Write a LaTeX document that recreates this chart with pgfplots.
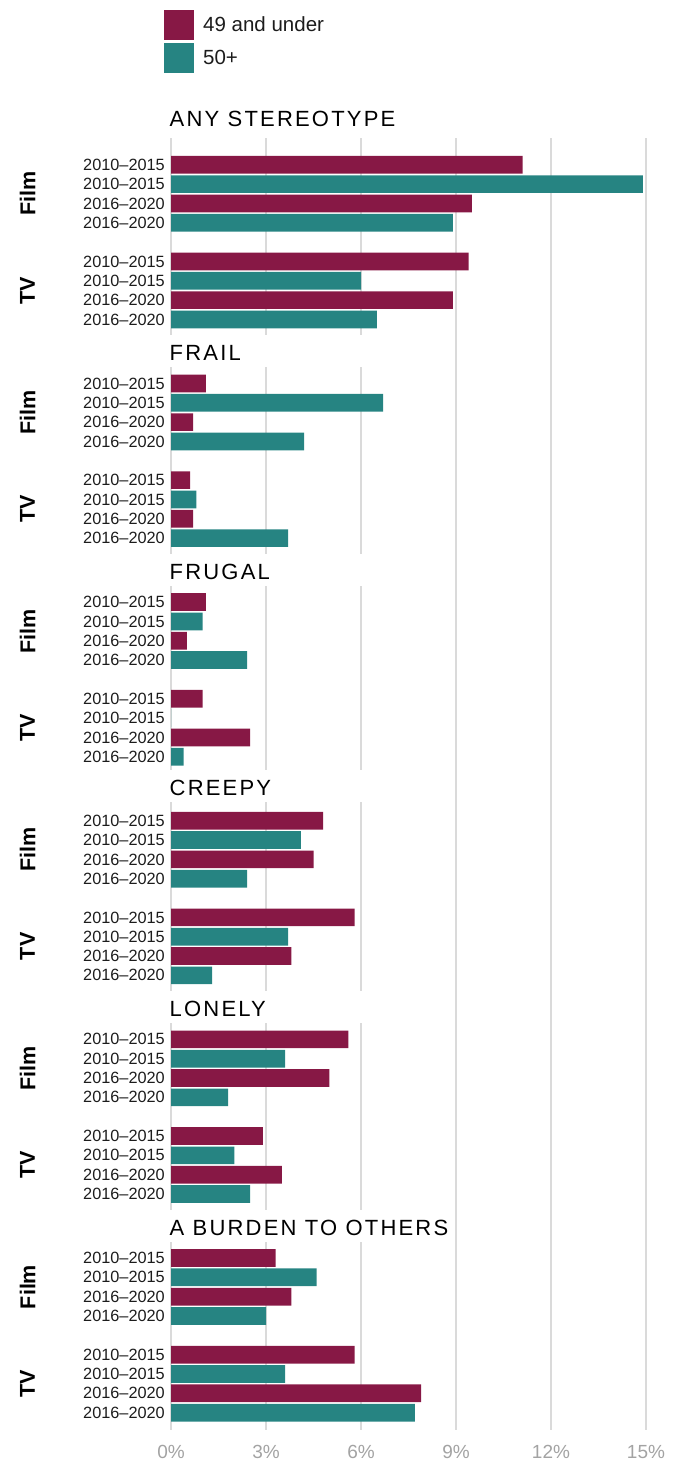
\documentclass[border=0pt]{standalone}
\usepackage{fontspec}
\setmainfont{Liberation Sans}
\newfontfamily\titlefont[LetterSpace=10]{Liberation Sans}
\usepackage{pgfplots}
\pgfplotsset{compat=1.18}
\definecolor{young}{HTML}{871845}
\definecolor{old}{HTML}{268482}
\definecolor{gridc}{HTML}{DADADA}
\definecolor{tickc}{HTML}{A3A3A3}
\definecolor{txt}{HTML}{1C1C1C}
\tikzset{
  titlenode/.style={anchor=base west, inner sep=0pt, fill=white, text height=25pt, text depth=7pt,
    xshift=-1.5pt, text=black, font=\titlefont\fontsize{22}{26}\selectfont},
  medianode/.style={rotate=90, anchor=center, font=\bfseries\fontsize{21.5}{24}\selectfont, text=black},
}
\newcommand\ptitle[1]{\makebox[254pt][l]{#1}}
\begin{document}
\begin{tikzpicture}
\path[use as bounding box] (0,0) rectangle (678pt,-1461pt);
\begin{axis}[
  at={(171pt,-138pt)}, anchor=north west,
  width=475pt, height=1292pt, scale only axis,
  xmin=0, xmax=15, ymin=-1.386, ymax=65.45, y dir=reverse,
  axis line style={draw=none},
  xtick={0,3,6,9,12,15},
  xmajorgrids, grid style={gridc, line width=1.6pt},
  major tick length=0pt,
  /pgf/number format/assume math mode=true,
  xticklabel={\pgfmathprintnumber{\tick}\%},
  xticklabel style={anchor=base, inner sep=0pt, yshift=-28.5pt, font=\fontsize{19}{22}\selectfont, text=tickc},
  ytick={0,1,2,3,5,6,7,8,
         11.31,12.31,13.31,14.31,16.31,17.31,18.31,19.31,
         22.62,23.62,24.62,25.62,27.62,28.62,29.62,30.62,
         33.93,34.93,35.93,36.93,38.93,39.93,40.93,41.93,
         45.24,46.24,47.24,48.24,50.24,51.24,52.24,53.24,
         56.55,57.55,58.55,59.55,61.55,62.55,63.55,64.55},
  yticklabels={2010–2015,2010–2015,2016–2020,2016–2020,2010–2015,2010–2015,2016–2020,2016–2020,
               2010–2015,2010–2015,2016–2020,2016–2020,2010–2015,2010–2015,2016–2020,2016–2020,
               2010–2015,2010–2015,2016–2020,2016–2020,2010–2015,2010–2015,2016–2020,2016–2020,
               2010–2015,2010–2015,2016–2020,2016–2020,2010–2015,2010–2015,2016–2020,2016–2020,
               2010–2015,2010–2015,2016–2020,2016–2020,2010–2015,2010–2015,2016–2020,2016–2020,
               2010–2015,2010–2015,2016–2020,2016–2020,2010–2015,2010–2015,2016–2020,2016–2020},
  yticklabel style={anchor=east, inner sep=0pt, xshift=-6pt, font=\fontsize{16.3}{18}\selectfont, text=txt},
  clip=false,
  legend style={at={(axis description cs:-0.01474,1.09907)}, anchor=north west, draw=none, fill=none,
    inner sep=0pt, row sep=3pt, column sep=9pt, font=\fontsize{20.5}{24}\selectfont, text=txt,
    nodes={inner sep=0pt}},
  legend cell align=left,
]
\addplot[xbar, bar width=0.916, bar shift=0pt, fill=young, draw=none,
  legend image code/.code={\fill[young] (0pt,-15pt) rectangle (30pt,15pt);}]
  coordinates {
  (11.1,0) (9.5,2) (9.4,5) (8.9,7)
  (1.1,11.31) (0.7,13.31) (0.6,16.31) (0.7,18.31)
  (1.1,22.62) (0.5,24.62) (1.0,27.62) (2.5,29.62)
  (4.8,33.93) (4.5,35.93) (5.8,38.93) (3.8,40.93)
  (5.6,45.24) (5.0,47.24) (2.9,50.24) (3.5,52.24)
  (3.3,56.55) (3.8,58.55) (5.8,61.55) (7.9,63.55) };
\addlegendentry{49 and under}
\addplot[xbar, bar width=0.916, bar shift=0pt, fill=old, draw=none,
  legend image code/.code={\fill[old] (0pt,-15pt) rectangle (30pt,15pt);}]
  coordinates {
  (14.9,1) (8.9,3) (6.0,6) (6.5,8)
  (6.7,12.31) (4.2,14.31) (0.8,17.31) (3.7,19.31)
  (1.0,23.62) (2.4,25.62) (0,28.62) (0.4,30.62)
  (4.1,34.93) (2.4,36.93) (3.7,39.93) (1.3,41.93)
  (3.6,46.24) (1.8,48.24) (2.0,51.24) (2.5,53.24)
  (4.6,57.55) (3.0,59.55) (3.6,62.55) (7.7,64.55) };
\addlegendentry{50+}
% panel titles (white box masks the left grid lines)
\node[titlenode] at (axis cs:0,-1.971) {\ptitle{ANY STEREOTYPE}};
\node[titlenode] at (axis cs:0,10.10) {\ptitle{FRAIL}};
\node[titlenode] at (axis cs:0,21.43) {\ptitle{FRUGAL}};
\node[titlenode] at (axis cs:0,32.60) {\ptitle{CREEPY}};
\node[titlenode] at (axis cs:0,44.04) {\ptitle{LONELY}};
\node[titlenode] at (axis cs:0,55.37) {\ptitle{A BURDEN TO OTHERS}};
% media labels
\node[medianode] at ([xshift=-143.5pt]axis cs:0,1.5) {Film};
\node[medianode] at ([xshift=-143.5pt]axis cs:0,6.5) {TV};
\node[medianode] at ([xshift=-143.5pt]axis cs:0,12.81) {Film};
\node[medianode] at ([xshift=-143.5pt]axis cs:0,17.81) {TV};
\node[medianode] at ([xshift=-143.5pt]axis cs:0,24.12) {Film};
\node[medianode] at ([xshift=-143.5pt]axis cs:0,29.12) {TV};
\node[medianode] at ([xshift=-143.5pt]axis cs:0,35.43) {Film};
\node[medianode] at ([xshift=-143.5pt]axis cs:0,40.43) {TV};
\node[medianode] at ([xshift=-143.5pt]axis cs:0,46.74) {Film};
\node[medianode] at ([xshift=-143.5pt]axis cs:0,51.74) {TV};
\node[medianode] at ([xshift=-143.5pt]axis cs:0,58.05) {Film};
\node[medianode] at ([xshift=-143.5pt]axis cs:0,63.05) {TV};
\end{axis}
\end{tikzpicture}
\end{document}
